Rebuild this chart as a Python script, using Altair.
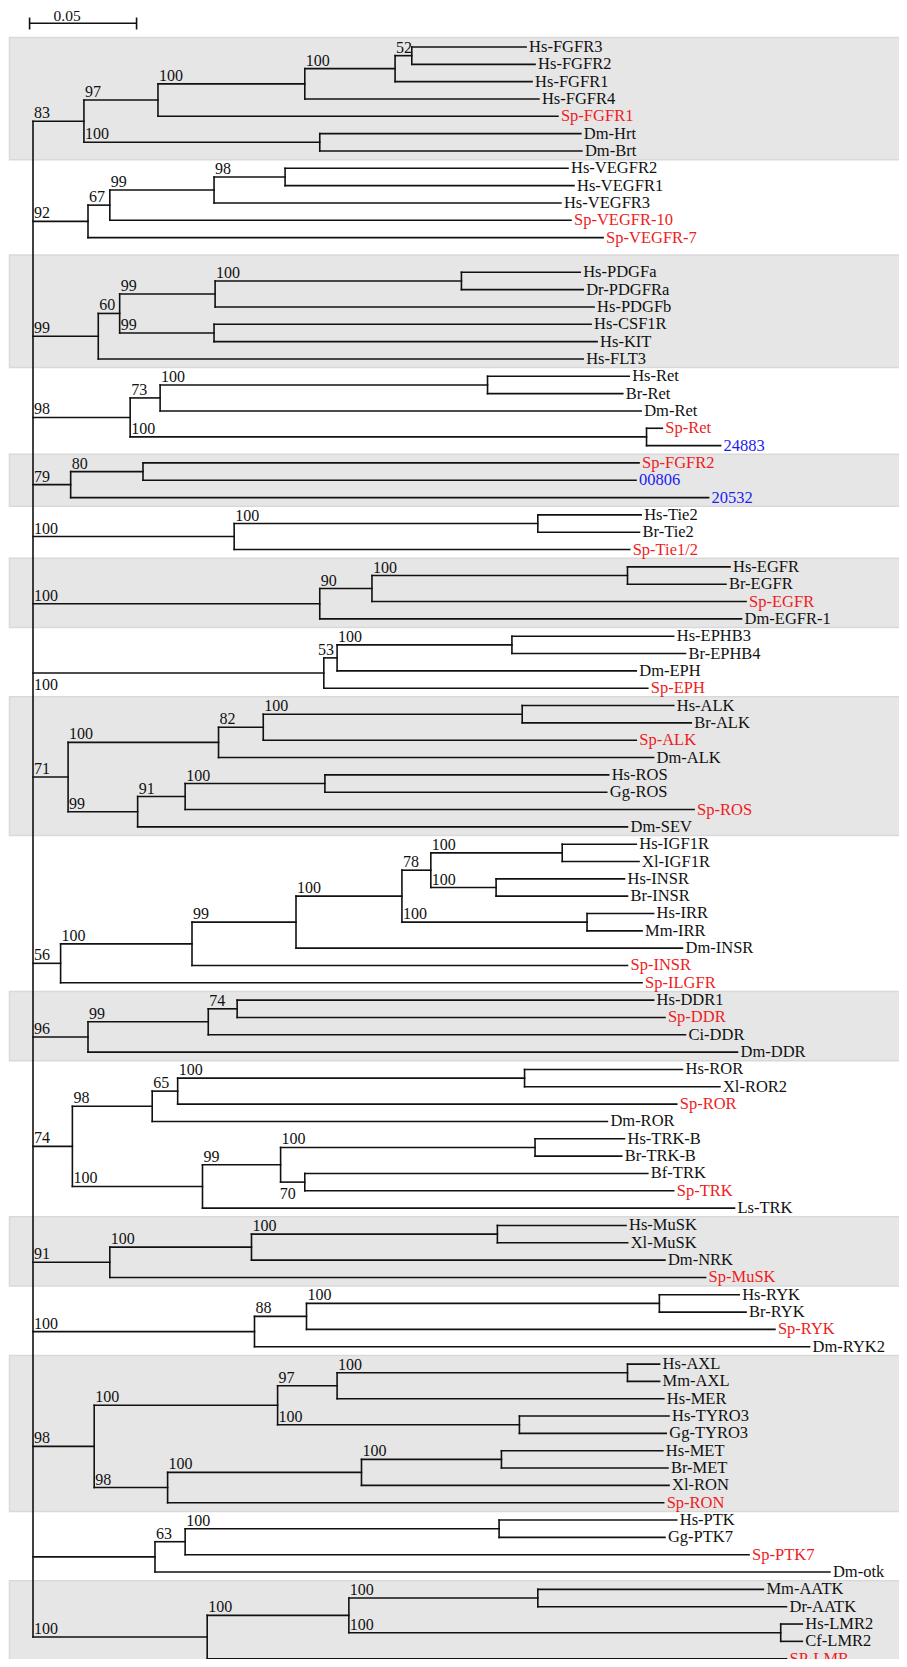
import altair as alt
import pandas as pd

# ---------------- data ----------------
leaf_names = [
    "Hs-FGFR3", "Hs-FGFR2", "Hs-FGFR1", "Hs-FGFR4", "Sp-FGFR1", "Dm-Hrt", "Dm-Brt",
    "Hs-VEGFR2", "Hs-VEGFR1", "Hs-VEGFR3", "Sp-VEGFR-10", "Sp-VEGFR-7",
    "Hs-PDGFa", "Dr-PDGFRa", "Hs-PDGFb", "Hs-CSF1R", "Hs-KIT", "Hs-FLT3",
    "Hs-Ret", "Br-Ret", "Dm-Ret", "Sp-Ret", "24883",
    "Sp-FGFR2", "00806", "20532",
    "Hs-Tie2", "Br-Tie2", "Sp-Tie1/2",
    "Hs-EGFR", "Br-EGFR", "Sp-EGFR", "Dm-EGFR-1",
    "Hs-EPHB3", "Br-EPHB4", "Dm-EPH", "Sp-EPH",
    "Hs-ALK", "Br-ALK", "Sp-ALK", "Dm-ALK", "Hs-ROS", "Gg-ROS", "Sp-ROS", "Dm-SEV",
    "Hs-IGF1R", "Xl-IGF1R", "Hs-INSR", "Br-INSR", "Hs-IRR", "Mm-IRR", "Dm-INSR", "Sp-INSR", "Sp-ILGFR",
    "Hs-DDR1", "Sp-DDR", "Ci-DDR", "Dm-DDR",
    "Hs-ROR", "Xl-ROR2", "Sp-ROR", "Dm-ROR", "Hs-TRK-B", "Br-TRK-B", "Bf-TRK", "Sp-TRK", "Ls-TRK",
    "Hs-MuSK", "Xl-MuSK", "Dm-NRK", "Sp-MuSK",
    "Hs-RYK", "Br-RYK", "Sp-RYK", "Dm-RYK2",
    "Hs-AXL", "Mm-AXL", "Hs-MER", "Hs-TYRO3", "Gg-TYRO3", "Hs-MET", "Br-MET", "Xl-RON", "Sp-RON",
    "Hs-PTK", "Gg-PTK7", "Sp-PTK7", "Dm-otk",
    "Mm-AATK", "Dr-AATK", "Hs-LMR2", "Cf-LMR2", "SP-LMR",
]
leaf_tip = [
    0.2304, 0.2346, 0.2332, 0.2364, 0.2453, 0.2560, 0.2565,
    0.2500, 0.2528, 0.2467, 0.2514, 0.2664,
    0.2557, 0.2571, 0.2622, 0.2608, 0.2636, 0.2571,
    0.2786, 0.2756, 0.2842, 0.2941, 0.3213,
    0.2832, 0.2818, 0.3157,
    0.2842, 0.2834, 0.2788,
    0.3257, 0.3238, 0.3332, 0.3311,
    0.2994, 0.3049, 0.2819, 0.2873,
    0.2994, 0.3076, 0.2819, 0.2900, 0.2690, 0.2681, 0.3089, 0.2778,
    0.2819, 0.2832, 0.2764, 0.2778, 0.2900, 0.2846, 0.3035, 0.2778, 0.2846,
    0.2900, 0.2953, 0.3049, 0.3292,
    0.3035, 0.3210, 0.3008, 0.2684, 0.2764, 0.2751, 0.2873, 0.2994, 0.3278,
    0.2771, 0.2779, 0.2953, 0.3143,
    0.3300, 0.3332, 0.3467, 0.3629,
    0.2928, 0.2928, 0.2948, 0.2972, 0.2959, 0.2943, 0.2967, 0.2972, 0.2947,
    0.3008, 0.2953, 0.3346, 0.3724,
    0.3413, 0.3521, 0.3595, 0.3595, 0.3521,
]
sp_leaves = ["Sp-FGFR1", "Sp-VEGFR-10", "Sp-VEGFR-7", "Sp-Ret", "Sp-FGFR2", "Sp-Tie1/2",
             "Sp-EGFR", "Sp-EPH", "Sp-ALK", "Sp-ROS", "Sp-INSR", "Sp-ILGFR", "Sp-DDR",
             "Sp-ROR", "Sp-TRK", "Sp-MuSK", "Sp-RYK", "Sp-RON", "Sp-PTK7", "SP-LMR"]
est_leaves = ["24883", "00806", "20532"]

node_names = ["A", "B", "C", "D", "E", "F",
              "V1", "V2", "V3", "V4",
              "P1", "P2", "P3", "P4", "P5",
              "R1", "R2", "R3", "R4",
              "S1", "S2",
              "T1", "T2",
              "G1", "G2", "G3",
              "H1", "H2", "H3",
              "K1", "K2", "K3", "K4", "K5", "K6", "K7",
              "I1", "I2", "I3", "I4", "I5", "I6", "I7", "I8",
              "D1", "D2", "D3",
              "O1", "O2", "O3", "O4", "O5", "O6", "O7", "O8",
              "M1", "M2", "M3",
              "Y1", "Y2", "Y3",
              "X1", "X2", "X3", "X4", "X5", "X6", "X7", "X8",
              "Q1", "Q2", "Q3",
              "L1", "L2", "L3", "L4"]
node_dist = [0.0238, 0.0584, 0.1270, 0.1692, 0.1770, 0.1340,
             0.0257, 0.0359, 0.0846, 0.1178,
             0.0305, 0.0405, 0.0851, 0.2002, 0.0846,
             0.0454, 0.0594, 0.2124, 0.2867,
             0.0176, 0.0514,
             0.0940, 0.2359,
             0.1340, 0.1584, 0.2778,
             0.1359, 0.1421, 0.2238,
             0.0164, 0.0867, 0.1076, 0.2286, 0.0489, 0.0711, 0.1364,
             0.0129, 0.0743, 0.1229, 0.1724, 0.1859, 0.2473, 0.2164, 0.2589,
             0.0257, 0.0819, 0.0954,
             0.0184, 0.0557, 0.0676, 0.2297, 0.0792, 0.1157, 0.2346, 0.1270,
             0.0359, 0.1021, 0.2170,
             0.1035, 0.1278, 0.2927,
             0.0286, 0.1143, 0.1421, 0.2778, 0.2273, 0.0629, 0.1535, 0.2189,
             0.0570, 0.0711, 0.2178,
             0.0814, 0.1476, 0.2359, 0.3494]
node_children = [["B", "F"], ["C", "Sp-FGFR1"], ["D", "Hs-FGFR4"], ["E", "Hs-FGFR1"],
                 ["Hs-FGFR3", "Hs-FGFR2"], ["Dm-Hrt", "Dm-Brt"],
                 ["V2", "Sp-VEGFR-7"], ["V3", "Sp-VEGFR-10"], ["V4", "Hs-VEGFR3"], ["Hs-VEGFR2", "Hs-VEGFR1"],
                 ["P2", "Hs-FLT3"], ["P3", "P5"], ["P4", "Hs-PDGFb"], ["Hs-PDGFa", "Dr-PDGFRa"], ["Hs-CSF1R", "Hs-KIT"],
                 ["R2", "R4"], ["R3", "Dm-Ret"], ["Hs-Ret", "Br-Ret"], ["Sp-Ret", "24883"],
                 ["S2", "20532"], ["Sp-FGFR2", "00806"],
                 ["T2", "Sp-Tie1/2"], ["Hs-Tie2", "Br-Tie2"],
                 ["G2", "Dm-EGFR-1"], ["G3", "Sp-EGFR"], ["Hs-EGFR", "Br-EGFR"],
                 ["H2", "Sp-EPH"], ["H3", "Dm-EPH"], ["Hs-EPHB3", "Br-EPHB4"],
                 ["K2", "K5"], ["K3", "Dm-ALK"], ["K4", "Sp-ALK"], ["Hs-ALK", "Br-ALK"],
                 ["K6", "Dm-SEV"], ["K7", "Sp-ROS"], ["Hs-ROS", "Gg-ROS"],
                 ["I2", "Sp-ILGFR"], ["I3", "Sp-INSR"], ["I4", "Dm-INSR"], ["I5", "I8"], ["I6", "I7"],
                 ["Hs-IGF1R", "Xl-IGF1R"], ["Hs-INSR", "Br-INSR"], ["Hs-IRR", "Mm-IRR"],
                 ["D2", "Dm-DDR"], ["D3", "Ci-DDR"], ["Hs-DDR1", "Sp-DDR"],
                 ["O2", "O5"], ["O3", "Dm-ROR"], ["O4", "Sp-ROR"], ["Hs-ROR", "Xl-ROR2"],
                 ["O6", "Ls-TRK"], ["O7", "O8"], ["Hs-TRK-B", "Br-TRK-B"], ["Bf-TRK", "Sp-TRK"],
                 ["M2", "Sp-MuSK"], ["M3", "Dm-NRK"], ["Hs-MuSK", "Xl-MuSK"],
                 ["Y2", "Dm-RYK2"], ["Y3", "Sp-RYK"], ["Hs-RYK", "Br-RYK"],
                 ["X2", "X6"], ["X3", "X5"], ["X4", "Hs-MER"], ["Hs-AXL", "Mm-AXL"], ["Hs-TYRO3", "Gg-TYRO3"],
                 ["X7", "Sp-RON"], ["X8", "Xl-RON"], ["Hs-MET", "Br-MET"],
                 ["Q2", "Dm-otk"], ["Q3", "Sp-PTK7"], ["Hs-PTK", "Gg-PTK7"],
                 ["L2", "SP-LMR"], ["L3", "L4"], ["Mm-AATK", "Dr-AATK"], ["Hs-LMR2", "Cf-LMR2"]]
node_support = [83, 97, 100, 100, 52, 100,
                92, 67, 99, 98,
                99, 60, 99, 100, 99,
                98, 73, 100, 100,
                79, 80,
                100, 100,
                100, 90, 100,
                100, 53, 100,
                71, 100, 82, 100, 99, 91, 100,
                56, 100, 99, 100, 78, 100, 100, 100,
                96, 99, 74,
                74, 98, 65, 100, 100, 99, 100, 70,
                91, 100, 100,
                100, 88, 100,
                98, 100, 97, 100, 100, 98, 100, 100,
                0, 63, 100,
                100, 100, 100, 100]
root_children = ["A", "V1", "P1", "R1", "S1", "T1", "G1", "H1", "K1", "I1",
                 "D1", "O1", "M1", "Y1", "X1", "Q1", "L1"]
gap_after = ["Sp-VEGFR-7"]

band_first = ["Hs-FGFR3", "Hs-PDGFa", "Sp-FGFR2", "Hs-EGFR", "Hs-ALK", "Hs-DDR1", "Hs-MuSK", "Hs-AXL", "Mm-AATK"]
band_last = ["Dm-Brt", "Hs-FLT3", "20532", "Dm-EGFR-1", "Dm-SEV", "Dm-DDR", "Sp-MuSK", "Sp-RON", "SP-LMR"]

scale_length = [0.05]
scale_label = ["0.05"]

# ---------------- layout ----------------
assert len(leaf_names) == len(leaf_tip)
rows = {}
r = 0
for nm in leaf_names:
    rows[nm] = r
    r += 1
    if nm in gap_after:
        r += 1

dist = dict(zip(leaf_names, leaf_tip))
dist.update(zip(node_names, node_dist))
dist["root"] = 0.0
children = dict(zip(node_names, node_children))
children["root"] = root_children
support = dict(zip(node_names, node_support))

ypos = dict(rows)


def place(n):
    if n in ypos:
        return ypos[n]
    ys = [place(c) for c in children[n]]
    ypos[n] = (ys[0] + ys[-1]) / 2.0
    return ypos[n]


place("root")

segs = []
labels = []
special = {"H1": "below_left", "H2": "above_right", "O8": "below_right"}
for n, ch in children.items():
    ys = [ypos[c] for c in ch]
    segs.append(dict(x=dist[n], x2=dist[n], y=min(ys), y2=max(ys)))
    for c in ch:
        segs.append(dict(x=dist[n], x2=dist[c], y=ypos[c], y2=ypos[c]))
        if c in support and support[c]:
            labels.append(dict(xp=dist[n], xc=dist[c], y=ypos[c], text=str(support[c]),
                               pos=special.get(c, "above_left")))
segs_df = pd.DataFrame(segs)
lab_df = pd.DataFrame(labels)

kind = ["sp" if n in sp_leaves else ("est" if n in est_leaves else "ref") for n in leaf_names]
leaf_df = pd.DataFrame(dict(name=leaf_names, tip=leaf_tip, y=[rows[n] for n in leaf_names], kind=kind))

all_rows = sorted(rows.values())
bands = []
for f, l in zip(band_first, band_last):
    rf, rl = rows[f], rows[l]
    prev = [x for x in all_rows if x < rf]
    nxt = [x for x in all_rows if x > rl]
    y0 = (rf + prev[-1]) / 2.0 if prev else rf - 0.55
    y1 = (rl + nxt[0]) / 2.0 if nxt else rl + 2.5
    bands.append(dict(y0=y0, y1=y1))
band_df = pd.DataFrame(bands)

bar_start = -0.0016
bar_row = -1.37
bar_df = pd.DataFrame(dict(x=[bar_start], x2=[bar_start + scale_length[0]], y=[bar_row],
                           xm=[bar_start + scale_length[0] / 2], label=scale_label))
tick_df = pd.DataFrame(dict(x=[bar_start, bar_start + scale_length[0]],
                            y=[bar_row - 0.33] * 2, y2=[bar_row + 0.36] * 2))

# ---------------- chart ----------------
W, H = 891, 1651
xs = alt.Scale(domain=[-0.011682, 0.404673], nice=False, zero=False)
ys = alt.Scale(domain=[-2.2504, 93.018], reverse=True, nice=False, zero=False)
X = lambda f: alt.X(f, type="quantitative", scale=xs, axis=None)
Y = lambda f: alt.Y(f, type="quantitative", scale=ys, axis=None)

FONT = "Liberation Serif"
LINE = "#111111"

band_layer = alt.Chart(band_df).mark_rect(fill="#e6e6e6", stroke="#d9d9d9", strokeWidth=1.5).encode(
    x=alt.value(1.5), x2=alt.value(W + 4), y=Y("y0"), y2="y1")

seg_layer = alt.Chart(segs_df).mark_rule(color=LINE, strokeWidth=1.6, strokeCap="square").encode(
    x=X("x"), x2="x2", y=Y("y"), y2="y2")

leaf_layer = alt.Chart(leaf_df).mark_text(align="left", baseline="middle", dx=3, font=FONT, fontSize=16.5).encode(
    x=X("tip"), y=Y("y"), text="name",
    color=alt.Color("kind:N", scale=alt.Scale(domain=["ref", "sp", "est"],
                                              range=["#111111", "#ee1c24", "#1c1cf0"]), legend=None))


def lab(pos, xf, align, baseline, dx, dy):
    return alt.Chart(lab_df).transform_filter(alt.datum.pos == pos).mark_text(
        align=align, baseline=baseline, dx=dx, dy=dy, font=FONT, fontSize=16, color=LINE
    ).encode(x=X(xf), y=Y("y"), text="text")


lab_layers = [
    lab("above_left", "xp", "left", "alphabetic", 1, -3),
    lab("below_left", "xp", "left", "top", 1, 4),
    lab("above_right", "xc", "right", "alphabetic", -3, -3),
    lab("below_right", "xc", "right", "top", -9, 4),
]

bar_layer = alt.Chart(bar_df).mark_rule(color=LINE, strokeWidth=1.6).encode(
    x=X("x"), x2="x2", y=Y("y"))
tick_layer = alt.Chart(tick_df).mark_rule(color=LINE, strokeWidth=1.6).encode(
    x=X("x"), y=Y("y"), y2="y2")
bar_text = alt.Chart(bar_df).mark_text(align="center", baseline="alphabetic", dx=-16, dy=-2.5,
                                       font=FONT, fontSize=15.5, color=LINE).encode(
    x=X("xm"), y=Y("y"), text="label")

chart = alt.layer(band_layer, seg_layer, leaf_layer, *lab_layers, bar_layer, tick_layer, bar_text).properties(
    width=W, height=H, padding=0, autosize=alt.AutoSizeParams(type="none"), background="white"
).configure_view(stroke=None)

chart.save("out.html", embed_options={"renderer": "svg", "actions": False})
